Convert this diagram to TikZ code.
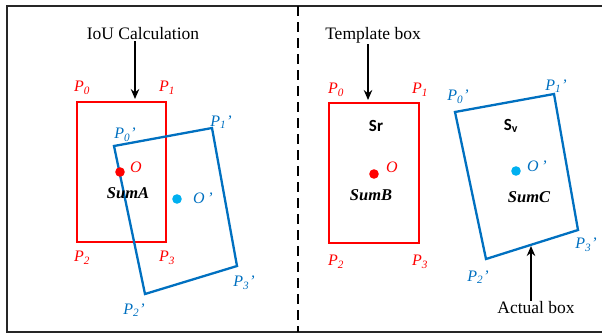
\documentclass[tikz,border=0pt]{standalone}
\usepackage{fontspec}
\usetikzlibrary{arrows.meta}
\setmainfont{Liberation Serif}
\newfontfamily\calib{Carlito}
\definecolor{boxred}{RGB}{255,0,0}
\definecolor{boxblue}{RGB}{0,112,192}
\definecolor{dotcyan}{RGB}{0,176,240}
\begin{document}
\begin{tikzpicture}[>=stealth, x=1pt, y=-1pt,
  every node/.style={font=\fontsize{17.5}{19}\selectfont\rmfamily, inner sep=1pt},
  redlab/.style={text=boxred, font=\fontsize{16}{18}\selectfont\rmfamily\itshape},
  bluelab/.style={text=boxblue, font=\fontsize{16}{18}\selectfont\rmfamily\itshape},
  sumlab/.style={font=\fontsize{16.5}{18}\selectfont\rmfamily\bfseries\itshape},
  arealab/.style={font=\fontsize{17}{18}\selectfont\calib\bfseries},
  redbox/.style={draw=boxred, line width=2.7pt},
  bluebox/.style={draw=boxblue, line width=2.3pt},
  pointer/.style={->, line width=1.4pt, >={Stealth[length=10pt,width=8.5pt]}}]
\useasboundingbox (0,0) rectangle (602,333);
% frame and divider
\draw[line width=1.8pt, black!85] (602,6)--(7,6)--(7,332)--(602,332);
\draw[line width=1.4pt, dash pattern=on 10pt off 6pt] (298,6)--(298,332);

% left: IoU of the two boxes
\coordinate (A0) at (77,102);
\coordinate (A1) at (166,102);
\coordinate (A2) at (77,242);
\coordinate (A3) at (166,242);
\coordinate (B0) at (114,146);
\coordinate (B1) at (212,128);
\coordinate (B3) at (237,266);
\coordinate (B2) at (145,294);
\draw[redbox] (A0)--(A1)--(A3)--(A2)--cycle;
\draw[bluebox] (B0)--(B1)--(B3)--(B2)--cycle;

\node[redlab] (la0) at (82,88){P\textsubscript{0}};
\node[redlab] (la1) at (167,88){P\textsubscript{1}};
\node[redlab] (la2) at (82,258){P\textsubscript{2}};
\node[redlab] (la3) at (167,258){P\textsubscript{3}};
\node[bluelab] (lb0) at (125,135){P\textsubscript{0}’};
\node[bluelab] (lb1) at (221,122){P\textsubscript{1}’};
\node[bluelab] (lb3) at (244,283){P\textsubscript{3}’};
\node[bluelab] (lb2) at (134,310){P\textsubscript{2}’};

\fill[boxred] (120,172) circle (4.8pt);
\node[redlab] (oa) at (136,167){O};
\fill[dotcyan] (177,199) circle (4.8pt);
\node[bluelab] (ob) at (203,198){O\,’};
\node[sumlab] (suma) at (128,193){SumA};

\node (iou) at (143,34){IoU Calculation};
\coordinate (iouTip) at (135,99);
\draw[pointer] (iou.south -| iouTip)--(iouTip);

% right: template box and actual box
\coordinate (C0) at (329,103);
\coordinate (C1) at (419,103);
\coordinate (C2) at (329,243);
\coordinate (C3) at (419,243);
\coordinate (D0) at (455,112);
\coordinate (D1) at (554,94);
\coordinate (D3) at (578,230);
\coordinate (D2) at (486,259);
\draw[redbox] (C0)--(C1)--(C3)--(C2)--cycle;
\draw[bluebox] (D0)--(D1)--(D3)--(D2)--cycle;

\node[redlab] (lc0) at (336,90){P\textsubscript{0}};
\node[redlab] (lc1) at (420,90){P\textsubscript{1}};
\node[redlab] (lc2) at (336,262){P\textsubscript{2}};
\node[redlab] (lc3) at (420,262){P\textsubscript{3}};
\node[bluelab] (ld0) at (458,97){P\textsubscript{0}’};
\node[bluelab] (ld1) at (556,86){P\textsubscript{1}’};
\node[bluelab] (ld3) at (586,245){P\textsubscript{3}’};
\node[bluelab] (ld2) at (478,277){P\textsubscript{2}’};

\node[arealab] (sr) at (376,126){Sr};
\fill[boxred] (374,174) circle (4.8pt);
\node[redlab] (oc) at (392,167){O};
\node[sumlab] (sumb) at (371,195){SumB};

\node[arealab] (sv) at (511,126){S\textsubscript{v}};
\fill[dotcyan] (516,171) circle (4.8pt);
\node[bluelab] (od) at (537,166){O\,’};
\node[sumlab] (sumc) at (529,197){SumC};

\node (tmpl) at (373,35){Template box};
\coordinate (tmplTip) at (368,100);
\draw[pointer] (tmpl.south -| tmplTip)--(tmplTip);

\node (act) at (536,308){Actual box};
\coordinate (actTip) at (531,246);
\draw[pointer] (act.north -| actTip)--(actTip);
\end{tikzpicture}
\end{document}
